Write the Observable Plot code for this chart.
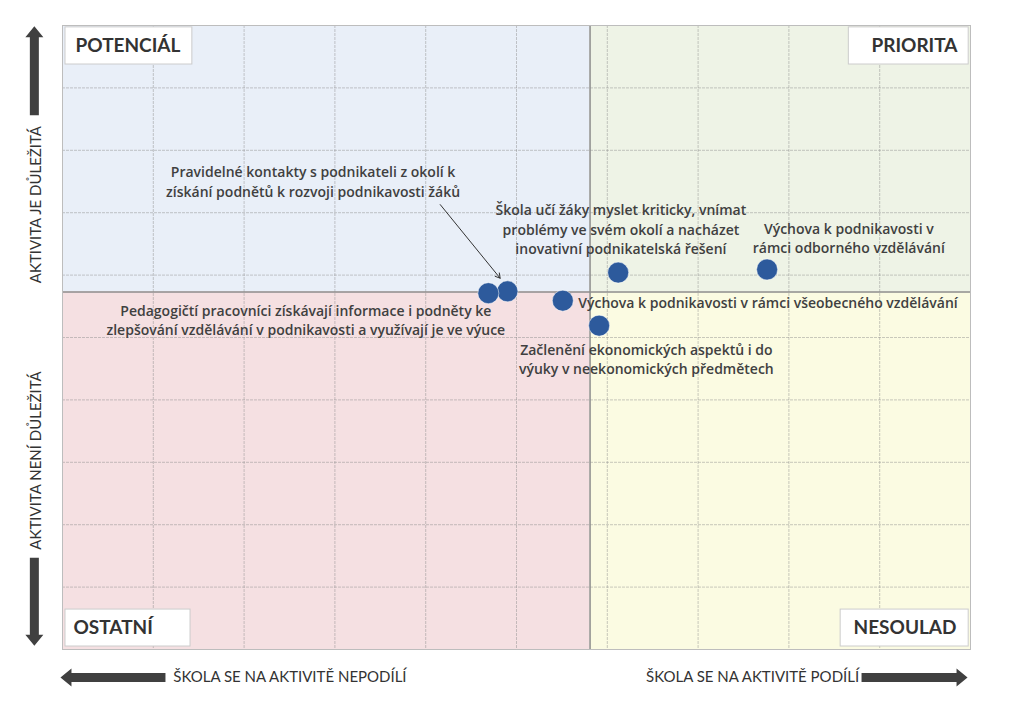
<!DOCTYPE html>
<html>
<head>
<meta charset="utf-8">
<script src="https://cdn.jsdelivr.net/npm/d3@7"></script>
<script src="https://cdn.jsdelivr.net/npm/@observablehq/plot@0.6"></script>
<style>
  html, body { margin: 0; padding: 0; background: #fff; }
  #chart svg { display: block; }
</style>
</head>
<body>
<div id="chart"></div>
<script>
// ---- data ----
const activities = [
  "Pravidelné kontakty s podnikateli z okolí k\nzískání podnětů k rozvoji podnikavosti žáků",
  "Škola učí žáky myslet kriticky, vnímat\nproblémy ve svém okolí a nacházet\ninovativní podnikatelská řešení",
  "Výchova k podnikavosti v\nrámci odborného vzdělávání",
  "Výchova k podnikavosti v rámci všeobecného vzdělávání",
  "Začlenění ekonomických aspektů i do\nvýuky v neekonomických předmětech",
  "Pedagogičtí pracovníci získávají informace i podněty ke\nzlepšování vzdělávání v podnikavosti a využívají je ve výuce"
];
const participation = [4.90, 6.12, 7.76, 5.51, 5.91, 4.69];   // x: škola se na aktivitě podílí
const importance    = [5.74, 6.04, 6.09, 5.59, 5.19, 5.71];   // y: aktivita je důležitá
const labelX        = [2.76, 6.15, 8.66, 5.68, 6.43, 2.68];
const labelY        = [7.51, 6.75, 6.61, 5.58, 4.67, 5.29];
const labelAnchor   = ["middle", "middle", "middle", "start", "middle", "middle"];

const splitX = 5.81, splitY = 5.73;
const quadrantNames  = ["POTENCIÁL", "PRIORITA", "OSTATNÍ", "NESOULAD"];
const quadrantColors = ["#e9eff8", "#eef3e6", "#f5e0e2", "#fbfbe2"];

const axisLabels = ["AKTIVITA JE DŮLEŽITÁ", "AKTIVITA NENÍ DŮLEŽITÁ", "ŠKOLA SE NA AKTIVITĚ NEPODÍLÍ", "ŠKOLA SE NA AKTIVITĚ PODÍLÍ"];

// ---- derived tables ----
const points = activities.map((name, i) => ({
  name, x: participation[i], y: importance[i],
  lx: labelX[i], ly: labelY[i], anchor: labelAnchor[i]
}));

const quadrants = [
  {name: quadrantNames[0], x1: 0, x2: splitX, y1: splitY, y2: 10},
  {name: quadrantNames[1], x1: splitX, x2: 10, y1: splitY, y2: 10},
  {name: quadrantNames[2], x1: 0, x2: splitX, y1: 0, y2: splitY},
  {name: quadrantNames[3], x1: splitX, x2: 10, y1: 0, y2: splitY}
];

// label boxes (data coordinates)
const boxes = [
  {name: quadrantNames[0], x1: 0.033, x2: 1.43, y1: 9.375, y2: 9.97, tx: 0.143, ty: 9.67, anchor: "start"},
  {name: quadrantNames[1], x1: 8.66, x2: 9.98, y1: 9.375, y2: 9.97, tx: 9.857, ty: 9.67, anchor: "end"},
  {name: quadrantNames[2], x1: 0.033, x2: 1.41, y1: 0.048, y2: 0.64, tx: 0.121, ty: 0.345, anchor: "start"},
  {name: quadrantNames[3], x1: 8.57, x2: 9.98, y1: 0.048, y2: 0.64, tx: 9.846, ty: 0.345, anchor: "end"}
];

const axisText = [
  {text: axisLabels[0], x: -0.286, y: 7.13, rotate: -90},
  {text: axisLabels[1], x: -0.286, y: 3.03, rotate: -90},
  {text: axisLabels[2], x: 2.505, y: -0.449, rotate: 0},
  {text: axisLabels[3], x: 7.60, y: -0.449, rotate: 0}
];

// big block arrows: tail position in data coords, direction, pixel length
const blockArrows = [
  {x: -0.31, y: 8.56, rotate: 0, length: 89},
  {x: -0.31, y: 1.47, rotate: 180, length: 88},
  {x: 1.134, y: -0.449, rotate: 270, length: 105},
  {x: 8.80, y: -0.449, rotate: 90, length: 106}
];

const pointer = [{x1: 4.16, y1: 7.13, x2: 4.82, y2: 5.95}];

// block-arrow shape for Plot.vector
const blockShape = {
  draw(context, l) {
    const hw = 4.5, hh = 9, hl = 11;
    context.moveTo(-hw, 0);
    context.lineTo(-hw, -(l - hl));
    context.lineTo(-hh, -(l - hl));
    context.lineTo(0, -l);
    context.lineTo(hh, -(l - hl));
    context.lineTo(hw, -(l - hl));
    context.lineTo(hw, 0);
    context.closePath();
  }
};

const labelFont = "'Open Sans', Lato, sans-serif";
const font = "Lato, 'Open Sans', sans-serif";

const labelStyle = {fontSize: 14, fontWeight: 600, fill: "#404040", lineHeight: 1.4, fontFamily: labelFont};
const boxStyle = {fontSize: 19, fontWeight: "bold", fill: "#333"};

const chart = Plot.plot({
  width: 1023,
  height: 705,
  marginLeft: 62,
  marginRight: 53,
  marginTop: 25,
  marginBottom: 56,
  x: {domain: [0, 10], axis: null},
  y: {domain: [0, 10], axis: null},
  length: {type: "identity"},
  color: {domain: quadrantNames, range: quadrantColors},
  style: {fontFamily: font, background: "#fff", overflow: "visible"},
  marks: [
    Plot.rect(quadrants, {x1: "x1", x2: "x2", y1: "y1", y2: "y2", fill: "name"}),
    Plot.gridX({ticks: 10, stroke: "#8a8a8a", strokeOpacity: 0.45, strokeDasharray: "3,1"}),
    Plot.gridY({ticks: 10, stroke: "#8a8a8a", strokeOpacity: 0.45, strokeDasharray: "3,1"}),
    Plot.ruleX([splitX], {stroke: "#8c8c8c", strokeWidth: 1.5}),
    Plot.ruleY([splitY], {stroke: "#8c8c8c", strokeWidth: 1.5}),
    Plot.frame({stroke: "#bdbdbd"}),
    Plot.rect(boxes, {x1: "x1", x2: "x2", y1: "y1", y2: "y2", fill: "#fff", stroke: "#cccccc"}),
    Plot.text(boxes.filter(d => d.anchor === "start"), {x: "tx", y: "ty", text: "name", textAnchor: "start", ...boxStyle}),
    Plot.text(boxes.filter(d => d.anchor === "end"), {x: "tx", y: "ty", text: "name", textAnchor: "end", ...boxStyle}),
    Plot.arrow(pointer, {x1: "x1", y1: "y1", x2: "x2", y2: "y2", stroke: "#333", strokeWidth: 1, headLength: 8}),
    Plot.dot(points, {x: "x", y: "y", r: 10.5, fill: "#2d5a9c", stroke: "#fff", strokeWidth: 0.5}),
    Plot.text(points.filter(d => d.anchor === "middle"), {x: "lx", y: "ly", text: "name", textAnchor: "middle", ...labelStyle}),
    Plot.text(points.filter(d => d.anchor === "start"), {x: "lx", y: "ly", text: "name", textAnchor: "start", ...labelStyle}),
    Plot.text(axisText, {x: "x", y: "y", text: "text", rotate: "rotate", fontSize: 15, fill: "#333"}),
    Plot.vector(blockArrows, {x: "x", y: "y", length: "length", rotate: "rotate", anchor: "start", shape: blockShape, fill: "#404040", stroke: "none"})
  ]
});

document.getElementById("chart").appendChild(chart);
</script>
</body>
</html>
